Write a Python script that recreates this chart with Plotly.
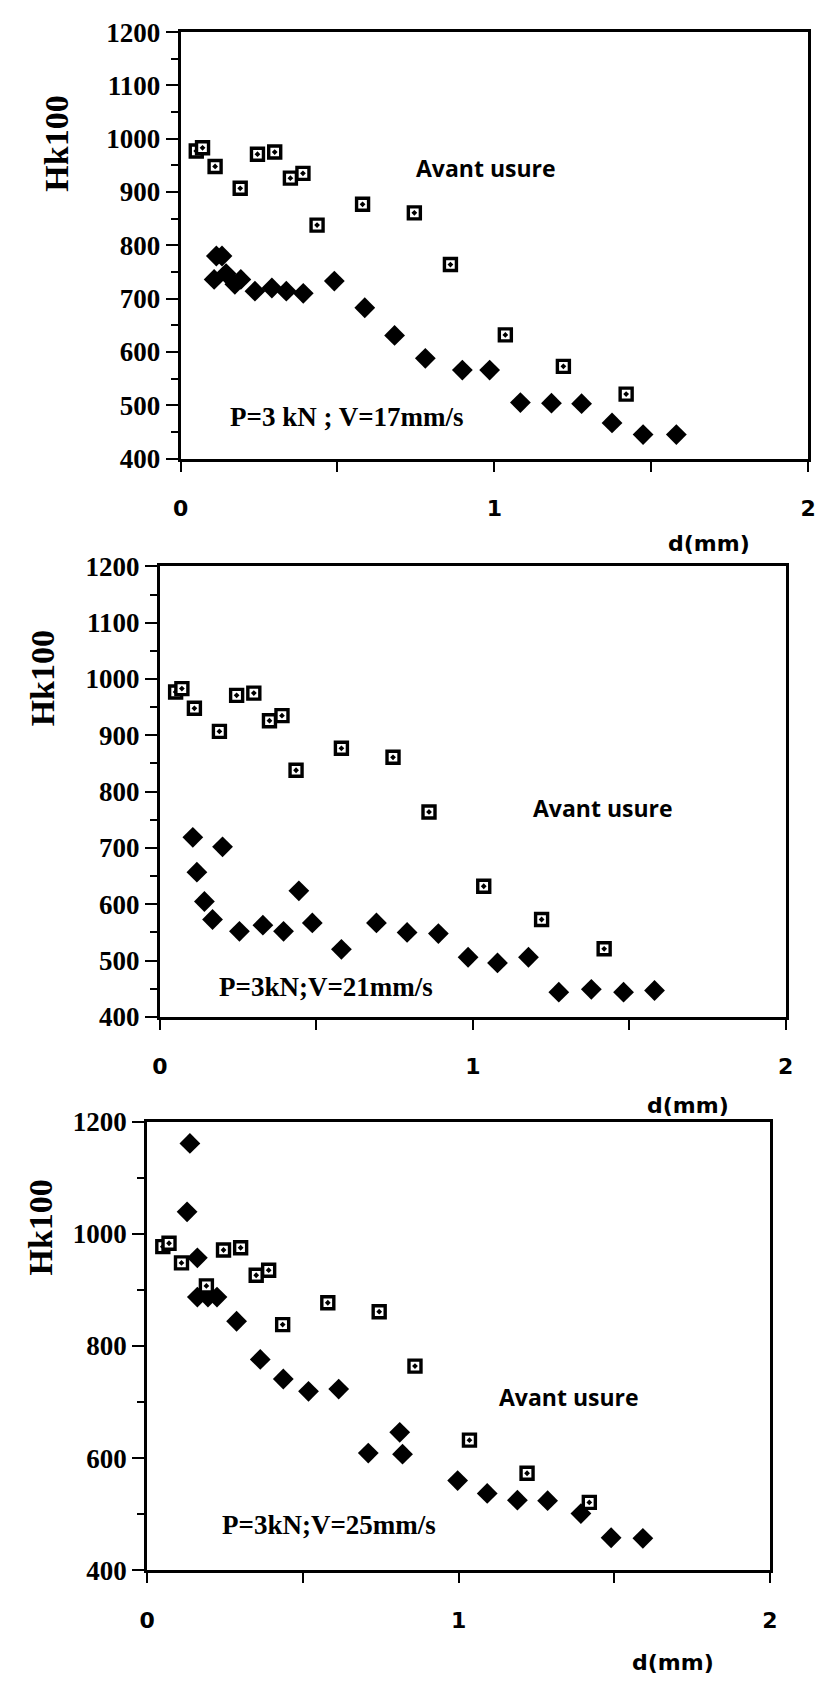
import plotly.graph_objects as go

W, H = 823, 1695

# Knoop hardness HK100 versus depth d (mm)
# Reference profile before wear ("Avant usure"), shown in every panel
avant_d = [0.05, 0.07, 0.11, 0.19, 0.245, 0.30, 0.35, 0.39, 0.435, 0.58, 0.745, 0.86, 1.035, 1.22, 1.42]
avant_hk = [977, 983, 948, 907, 971, 975, 926, 935, 838, 877, 861, 764, 632, 573, 521]

# After wear, P = 3 kN, V = 17 mm/s
d_v17 = [0.107, 0.114, 0.132, 0.145, 0.173, 0.192, 0.237, 0.291, 0.337, 0.391, 0.49, 0.587,
         0.682, 0.78, 0.898, 0.985, 1.083, 1.182, 1.278, 1.375, 1.474, 1.58]
hk_v17 = [736, 780, 780, 747, 727, 736, 714, 720, 714, 710, 733, 683,
          631, 588, 566, 566, 505, 504, 503, 467, 445, 445]

# After wear, P = 3 kN, V = 21 mm/s
d_v21 = [0.105, 0.118, 0.142, 0.168, 0.20, 0.254, 0.329, 0.395, 0.444, 0.487, 0.58,
         0.692, 0.79, 0.89, 0.985, 1.079, 1.178, 1.275, 1.379, 1.482, 1.581]
hk_v21 = [719, 657, 605, 573, 702, 552, 563, 552, 624, 567, 520,
          567, 550, 548, 506, 496, 506, 444, 449, 444, 447]

# After wear, P = 3 kN, V = 25 mm/s
d_v25 = [0.128, 0.137, 0.161, 0.161, 0.195, 0.224, 0.287, 0.363, 0.437, 0.518, 0.615,
         0.71, 0.811, 0.82, 0.997, 1.092, 1.189, 1.286, 1.393, 1.49, 1.592]
hk_v25 = [1039, 1161, 957, 887, 887, 887, 844, 776, 741, 719, 723,
          609, 646, 607, 560, 537, 525, 524, 501, 458, 457]

x_range = [0, 2]
y_range = [400, 1200]

panels = [
    dict(px=(176, 816), py=(17.4, 451.6), d=d_v17, hk=hk_v17, dtick=100, minor=50,
         cond="P=3 kN ; V=17mm/s", cond_xy=(346, 409), avant_xy=(487, 156),
         dmm_xy=(715, 538), title_xy=(50, 131)),
    dict(px=(155, 793), py=(561.3, 1020), d=d_v21, hk=hk_v21, dtick=100, minor=50,
         cond="P=3kN;V=21mm/s", cond_xy=(324, 990), avant_xy=(607, 807),
         dmm_xy=(693, 1110), title_xy=(35, 675)),
    dict(px=(142, 777), py=(1126.5, 1583.3), d=d_v25, hk=hk_v25, dtick=200, minor=100,
         cond="P=3kN;V=25mm/s", cond_xy=(327, 1537), avant_xy=(572, 1407),
         dmm_xy=(678, 1677), title_xy=(33, 1234)),
]


def fx(px):
    return px / W


def fy(py):
    return 1 - py / H


fig = go.Figure()
annotations = []
layout_axes = {}

serif = "Liberation Serif"
sans = "DejaVu Sans"

for i, p in enumerate(panels, start=1):
    xa = "x" if i == 1 else f"x{i}"
    ya = "y" if i == 1 else f"y{i}"
    xkey = "xaxis" if i == 1 else f"xaxis{i}"
    ykey = "yaxis" if i == 1 else f"yaxis{i}"

    # after-wear points (filled diamonds)
    fig.add_trace(go.Scatter(
        x=p["d"], y=p["hk"], mode="markers", xaxis=xa, yaxis=ya,
        marker=dict(symbol="diamond", size=16, color="black",
                    line=dict(color="black", width=0)),
        showlegend=False, hoverinfo="x+y"))
    # before-wear points (open squares with centre dot)
    fig.add_trace(go.Scatter(
        x=avant_d, y=avant_hk, mode="markers", xaxis=xa, yaxis=ya,
        marker=dict(symbol="square-dot", size=12, color="white",
                    line=dict(color="black", width=3.4)),
        showlegend=False, hoverinfo="x+y"))

    layout_axes[xkey] = dict(
        domain=[fx(p["px"][0]), fx(p["px"][1])], anchor=ya, range=x_range,
        showgrid=False, zeroline=False, showline=True, linewidth=3, linecolor="black",
        mirror=True, ticks="outside", ticklen=10, tickwidth=2.4, tickcolor="black",
        tickmode="linear", tick0=0, dtick=1, ticklabelstandoff=18,
        tickfont=dict(family=sans, size=22, color="black", weight="bold"),
        minor=dict(dtick=0.5, ticks="outside", ticklen=10, tickwidth=2.4,
                   tickcolor="black", showgrid=False),
    )
    layout_axes[ykey] = dict(
        domain=[fy(p["py"][1]), fy(p["py"][0])], anchor=xa, range=y_range,
        showgrid=False, zeroline=False, showline=True, linewidth=3, linecolor="black",
        mirror=True, ticks="outside", ticklen=12, tickwidth=2.4, tickcolor="black",
        tickmode="linear", tick0=400, dtick=p["dtick"],
        tickfont=dict(family=serif, size=27, color="black", weight="bold"),
        minor=dict(dtick=p["minor"], ticks="outside", ticklen=7, tickwidth=2.2,
                   tickcolor="black", showgrid=False),
    )

    annotations += [
        dict(text="Avant usure", x=fx(p["avant_xy"][0]), y=fy(p["avant_xy"][1]),
             xref="paper", yref="paper", xanchor="center", yanchor="middle", showarrow=False,
             font=dict(family="Open Sans", size=23, color="black", weight=700)),
        dict(text=p["cond"], x=fx(p["cond_xy"][0]), y=fy(p["cond_xy"][1]),
             xref="paper", yref="paper", xanchor="center", yanchor="middle", showarrow=False,
             font=dict(family=serif, size=27, color="black", weight="bold")),
        dict(text="d(mm)", x=fx(p["dmm_xy"][0]), y=fy(p["dmm_xy"][1]),
             xref="paper", yref="paper", xanchor="center", yanchor="middle", showarrow=False,
             font=dict(family=sans, size=22, color="black", weight="bold")),
        dict(text="Hk100", x=fx(p["title_xy"][0]), y=fy(p["title_xy"][1]),
             xref="paper", yref="paper", xanchor="center", yanchor="middle", showarrow=False,
             textangle=-90,
             font=dict(family=serif, size=34, color="black", weight="bold")),
    ]

fig.update_layout(
    width=W, height=H,
    margin=dict(l=0, r=0, t=0, b=0),
    paper_bgcolor="white", plot_bgcolor="white",
    showlegend=False,
    annotations=annotations,
    **layout_axes,
)

fig.write_html("out.html")
